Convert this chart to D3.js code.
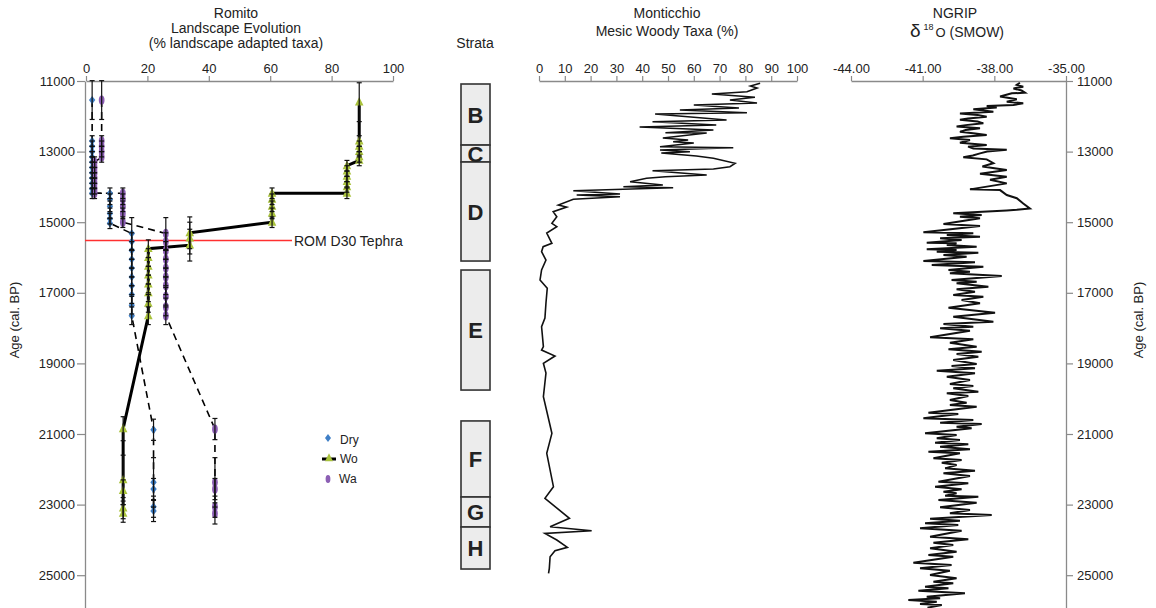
<html>
<script src="https://d3js.org/d3.v7.min.js"></script>
<body style="margin:0">
<style>
    text { font-family: Arial, "Liberation Sans", sans-serif; fill: #222; }
</style>
<svg width=1156 height=608></svg>
<script>

// ---- data ----
var ageTicks = [11000, 13000, 15000, 17000, 19000, 21000, 23000, 25000];
var romitoTicks = [0, 20, 40, 60, 80, 100];
var montTicks = [0, 10, 20, 30, 40, 50, 60, 70, 80, 90, 100];
var ngripTicks = [-44, -41, -38, -35];

// Romito samples: [percent, age, age error]
var dry = [
    [2, 11540, 550],
    [2, 12700, 150], [2, 12850, 150], [2, 13000, 150], [2, 13150, 150], [2, 13300, 150], [2, 13450, 150],
    [2, 13600, 150], [2, 13750, 150], [2, 13900, 150], [2, 14050, 150], [2, 14180, 150],
    [7.8, 14180, 150], [7.8, 14350, 150], [7.8, 14550, 150], [7.8, 14750, 150], [7.8, 14900, 150], [7.8, 15030, 150],
    [14.9, 15320, 450], [14.9, 15550, 250], [14.9, 15800, 250], [14.9, 16050, 250], [14.9, 16300, 250],
    [14.9, 16550, 250], [14.9, 16800, 250], [14.9, 17050, 250], [14.9, 17350, 250], [14.9, 17650, 250],
    [22, 20880, 300], [22, 22370, 700], [22, 22560, 300], [22, 23060, 300], [22, 23180, 300]
];
var wo = [
    [89, 11600, 550],
    [89, 12700, 150], [89, 12850, 150], [89, 13000, 150], [89, 13150, 150], [89, 13250, 150],
    [85, 13400, 150], [85, 13550, 150], [85, 13700, 150], [85, 13850, 150], [85, 14000, 150], [85, 14180, 150],
    [60.6, 14180, 150], [60.6, 14350, 150], [60.6, 14550, 150], [60.6, 14750, 150], [60.6, 15000, 150],
    [33.8, 15300, 450], [33.8, 15450, 450], [33.8, 15650, 450],
    [20.3, 15750, 250], [20.3, 16000, 250], [20.3, 16250, 250], [20.3, 16500, 250], [20.3, 16750, 250],
    [20.3, 17000, 250], [20.3, 17300, 250], [20.3, 17650, 250],
    [12.1, 20850, 340], [12.1, 22300, 700], [12.1, 22600, 300], [12.1, 23100, 300], [12.1, 23250, 250]
];
var wa = [
    [5.1, 11540, 550],
    [5.1, 12700, 150], [5.1, 12850, 150], [5.1, 13000, 150], [5.1, 13150, 150],
    [2.8, 13300, 150], [2.8, 13450, 150], [2.8, 13600, 150], [2.8, 13750, 150], [2.8, 13900, 150], [2.8, 14050, 150], [2.8, 14180, 150],
    [12, 14180, 150], [12, 14350, 150], [12, 14550, 150], [12, 14750, 150], [12, 15000, 150],
    [26, 15320, 450], [26, 15550, 250], [26, 15800, 250], [26, 16050, 250], [26, 16300, 250],
    [26, 16550, 250], [26, 16800, 250], [26, 17100, 250], [26, 17400, 250], [26, 17650, 250],
    [42, 20860, 300], [42, 22370, 700], [42, 22560, 300], [42, 23060, 300], [42, 23250, 300]
];

var tephraAge = 15520;

// strata: [name, top age, bottom age]
var strata = [
    ["B", 11085, 12815], ["C", 12815, 13295], ["D", 13295, 16100],
    ["E", 16355, 19755], ["F", 20630, 22785], ["G", 22785, 23635], ["H", 23635, 24825]
];

// Monticchio mesic woody taxa: [age, percent]
var monticchio = [
    [11065, 85.7], [11142, 82], [11198, 84.5], [11303, 80.6], [11368, 67], [11462, 83.7], [11538, 74],
    [11623, 84.5], [11680, 60], [11765, 77.5], [11822, 54.6], [11898, 80.6], [11935, 45], [12105, 72.7],
    [12153, 44], [12247, 68.7], [12303, 39], [12388, 67.6], [12465, 49], [12473, 65], [12615, 48],
    [12671, 57.8], [12720, 52], [12756, 60], [12861, 46.9], [12890, 75.3], [12955, 46.9], [13003, 58.5],
    [13040, 47.4], [13125, 61], [13190, 67.6], [13332, 76], [13428, 74], [13493, 67.6], [13541, 44],
    [13663, 65], [13711, 49], [13757, 41.7], [13853, 35.3], [13946, 48], [13994, 32.7], [14022, 52],
    [14108, 13.3], [14201, 31.4], [14230, 14.6], [14278, 31.4], [14351, 13.3], [14513, 7.5], [14570, 10.7],
    [14703, 5.5], [14845, 6.9], [15031, 5], [15128, 6.9], [15306, 3], [15598, 5], [15694, 1.6], [15836, 1],
    [16071, 2.7], [16354, 1], [16637, 0.4], [16873, 3.2], [17289, 2.7], [17714, 2.3], [17961, 1],
    [18527, 1.7], [18621, 1], [18791, 6.2], [18998, 1.7], [19272, 2.7], [19944, 1.7], [20981, 5],
    [21547, 3], [22493, 5.6], [22822, 2.3], [23389, 11.8], [23627, 4.3], [23740, 20.4], [23814, 2.3],
    [24003, 6.9], [24210, 11], [24307, 6.2], [24477, 4.3], [24805, 4], [24947, 3.7]
];

// NGRIP d18O: [age, value]
var ngrip = [
    [11050, -36.93], [11110, -37.06], [11160, -36.79], [11210, -37.20], [11270, -36.86], [11330, -36.72],
    [11350, -37.27], [11440, -37.76], [11520, -37.06], [11590, -37.48], [11630, -36.79], [11680, -37.20],
    [11710, -38.32], [11750, -37.90], [11800, -38.88], [11870, -38.04], [11920, -39.44], [11960, -38.70],
    [12010, -38.32], [12060, -39.10], [12100, -39.44], [12150, -38.70], [12200, -38.46], [12250, -39.20],
    [12290, -39.58], [12340, -38.60], [12390, -39.20], [12440, -39.44], [12490, -38.80], [12530, -38.32],
    [12580, -39.30], [12620, -39.86], [12670, -39.02], [12750, -39.44], [12810, -38.32], [12860, -39.10],
    [12910, -38.88], [12950, -37.48], [13000, -38.30], [13050, -38.60], [13110, -38.90], [13160, -39.30],
    [13220, -38.32], [13330, -38.04], [13420, -38.50], [13520, -37.48], [13630, -38.60], [13710, -37.48],
    [13800, -38.18], [13900, -37.48], [14070, -39.02], [14090, -37.76], [14230, -37.48], [14320, -37.06],
    [14470, -36.79], [14610, -36.51], [14650, -37.06], [14670, -37.48],
    [14749, -39.72], [14796, -38.53], [14843, -39.44], [14890, -38.60], [15051, -40.13], [15108, -38.60],
    [15287, -40.97], [15315, -38.88], [15363, -39.99], [15410, -38.60], [15457, -40.27], [15504, -39.37],
    [15580, -40.83], [15599, -39.58], [15646, -39.99], [15693, -38.74], [15769, -40.83], [15787, -39.58],
    [15835, -40.41], [15863, -38.67], [15929, -40.13], [15976, -39.16], [16099, -40.97], [16137, -38.81],
    [16212, -40.62], [16260, -38.46], [16354, -39.92], [16401, -39.02], [16448, -39.86], [16524, -37.69],
    [16637, -39.79], [16685, -38.74], [16732, -39.58], [16826, -38.25], [16902, -39.58], [16968, -38.81],
    [17062, -39.72], [17109, -38.46], [17204, -39.37], [17298, -38.60], [17421, -39.92], [17563, -37.97],
    [17676, -39.72], [17818, -38.04], [17884, -40.13], [17959, -38.88], [18007, -40.27], [18073, -39.02],
    [18261, -40.69], [18318, -38.88], [18413, -39.86], [18526, -38.74], [18602, -39.92], [18668, -38.53],
    [18734, -39.58], [18809, -38.67], [18904, -39.72], [19017, -38.74], [19074, -39.79], [19140, -38.81],
    [19206, -40.41], [19281, -38.81], [19376, -39.99], [19471, -39.02], [19584, -39.86], [19640, -38.88],
    [19706, -39.72], [19801, -38.67], [19848, -39.99], [19924, -39.09], [20037, -39.86], [20112, -39.16],
    [20179, -39.86], [20226, -38.74], [20396, -40.76], [20434, -39.51], [20556, -40.97], [20604, -38.88],
    [20679, -40.27], [20717, -38.53], [20793, -39.58], [20840, -38.95], [20981, -40.90], [21029, -39.58],
    [21123, -40.41], [21170, -39.44], [21246, -40.48], [21293, -39.09], [21359, -40.27], [21435, -39.02],
    [21501, -40.76], [21548, -39.44], [21690, -40.55], [21737, -39.37], [21812, -40.20], [21878, -39.58],
    [21973, -40.06], [22039, -38.81], [22114, -40.13], [22190, -39.02], [22351, -40.34], [22398, -39.09],
    [22492, -40.48], [22568, -39.37], [22634, -40.13], [22681, -39.58], [22747, -40.06], [22776, -38.67],
    [22870, -40.34], [22946, -38.74], [23078, -40.27], [23153, -39.02], [23248, -39.86], [23295, -38.11],
    [23399, -40.69], [23455, -39.44], [23531, -40.90], [23578, -39.51], [23673, -41.11], [23739, -39.37],
    [23909, -40.69], [23984, -39.09], [24079, -40.55], [24145, -39.72], [24239, -40.69], [24334, -39.58],
    [24428, -40.76], [24475, -39.72], [24645, -41.39], [24711, -39.79], [24806, -41.11], [24872, -39.86],
    [24995, -40.69], [25089, -39.58], [25183, -40.55], [25231, -39.72], [25325, -40.90], [25372, -39.92],
    [25438, -41.18], [25514, -39.23], [25608, -40.83], [25656, -40.27], [25703, -41.60], [25750, -40.41],
    [25816, -41.11], [25845, -40.20], [25920, -40.80]
];

// ---- scales ----
var svg = d3.select("svg");

var y = d3.scaleLinear().domain([11000, 26000]).range([81, 610.5]);
var xR = d3.scaleLinear().domain([0, 100]).range([86, 393]);
var xM = d3.scaleLinear().domain([0, 100]).range([539, 797]);
var xN = d3.scaleLinear().domain([-44, -35]).range([851, 1066]);

function styleAxis(g) {
    g.select(".domain").attr("stroke", "#8a8a8a").attr("stroke-width", 1.3);
    g.selectAll(".tick line").attr("stroke", "#8a8a8a").attr("stroke-width", 1.2);
    g.selectAll(".tick text").style("font-size", "13px").attr("fill", "#222")
        .style("font-family", "Arial, 'Liberation Sans', sans-serif");
}

// ---- axes ----
svg.append("g").attr("transform", "translate(0,81)")
    .call(d3.axisTop(xR).tickValues(romitoTicks).tickSize(5).tickSizeOuter(0).tickPadding(3))
    .call(styleAxis);

svg.append("g").attr("transform", "translate(85,0)")
    .call(d3.axisLeft(y).tickValues(ageTicks).tickFormat(d3.format("d")).tickSize(8).tickSizeOuter(0).tickPadding(2))
    .call(styleAxis);

svg.append("g").attr("transform", "translate(0,81)")
    .call(d3.axisTop(xM).tickValues(montTicks).tickSize(5).tickSizeOuter(0).tickPadding(3))
    .call(styleAxis);

var fmt2 = d3.format(".2f");
svg.append("g").attr("transform", "translate(0,81)")
    .call(d3.axisTop(xN).tickValues(ngripTicks)
        .tickFormat(function(d) { return fmt2(d).replace("\u2212", "-"); })
        .tickSize(5).tickSizeOuter(0).tickPadding(3))
    .call(styleAxis);

svg.append("g").attr("transform", "translate(1066,0)")
    .call(d3.axisRight(y).tickValues(ageTicks).tickFormat(d3.format("d")).tickSize(7).tickSizeOuter(0).tickPadding(4))
    .call(styleAxis);

// ---- titles ----
function title(x, yy, txt, size) {
    svg.append("text").attr("x", x).attr("y", yy).attr("text-anchor", "middle")
        .style("font-size", (size || 14) + "px").text(txt);
}
title(236, 18, "Romito");
title(236, 33, "Landscape Evolution");
title(236, 48, "(% landscape adapted taxa)");
title(475, 48, "Strata");
title(667, 18, "Monticchio");
title(667, 36, "Mesic Woody Taxa (%)");
title(955, 18, "NGRIP");

var d18 = svg.append("text").attr("x", 957).attr("y", 37).attr("text-anchor", "middle").style("font-size", "14px");
d18.append("tspan").style("font-size", "19px").text("δ");
d18.append("tspan").attr("dx", 3).attr("dy", -7).style("font-size", "9px").text("18");
d18.append("tspan").attr("dx", 2).attr("dy", 7).style("font-size", "13px").text("O");
d18.append("tspan").style("font-size", "14px").text(" (SMOW)");

svg.append("text").attr("transform", "translate(19,320) rotate(-90)").attr("text-anchor", "middle")
    .style("font-size", "13px").text("Age (cal. BP)");
svg.append("text").attr("transform", "translate(1143,320) rotate(-90)").attr("text-anchor", "middle")
    .style("font-size", "13px").text("Age (cal. BP)");

// ---- tephra ----
svg.append("line").attr("x1", 85).attr("x2", 292).attr("y1", y(tephraAge)).attr("y2", y(tephraAge))
    .attr("stroke", "#ff3030").attr("stroke-width", 1.5);
svg.append("text").attr("x", 294).attr("y", y(tephraAge) + 5).style("font-size", "14px").text("ROM D30 Tephra");

// ---- Romito series ----
var romLine = d3.line().x(function(d) { return xR(d[0]); }).y(function(d) { return y(d[1]); });

svg.append("path").datum(dry).attr("d", romLine).attr("fill", "none")
    .attr("stroke", "black").attr("stroke-width", 1.6).attr("stroke-dasharray", "7,5");
svg.append("path").datum(wa).attr("d", romLine).attr("fill", "none")
    .attr("stroke", "black").attr("stroke-width", 1.6).attr("stroke-dasharray", "7,5");
svg.append("path").datum(wo).attr("d", romLine).attr("fill", "none")
    .attr("stroke", "black").attr("stroke-width", 3);

var colDry = "#3f7fc6", colWo = "#a9c23c", colWa = "#8c5fb4";

function diamond(g, cx, cy, s) {
    g.append("path").attr("d", "M" + cx + "," + (cy - s * 1.3) + "L" + (cx + s) + "," + cy +
        "L" + cx + "," + (cy + s * 1.3) + "L" + (cx - s) + "," + cy + "Z").attr("fill", colDry);
}
function triangle(g, cx, cy, s) {
    g.append("path").attr("d", "M" + cx + "," + (cy - s * 1.2) + "L" + (cx + s) + "," + (cy + s * 0.8) +
        "L" + (cx - s) + "," + (cy + s * 0.8) + "Z").attr("fill", colWo);
}
function oval(g, cx, cy, s) {
    g.append("ellipse").attr("cx", cx).attr("cy", cy).attr("rx", s * 0.8).attr("ry", s * 1.3).attr("fill", colWa);
}

var marks = svg.append("g");
dry.forEach(function(d) { diamond(marks, xR(d[0]), y(d[1]), 3.2); });
wa.forEach(function(d) { oval(marks, xR(d[0]), y(d[1]), 3.6); });
wo.forEach(function(d) { triangle(marks, xR(d[0]), y(d[1]), 4.3); });

// error bars
var errs = svg.append("g").attr("stroke", "#111").attr("stroke-width", 1.2);
[dry, wo, wa].forEach(function(series) {
    series.forEach(function(d) {
        var x = xR(d[0]), y0 = y(d[1] - d[2]), y1 = y(d[1] + d[2]);
        errs.append("line").attr("x1", x).attr("x2", x).attr("y1", y0).attr("y2", y1);
        errs.append("line").attr("x1", x - 2.5).attr("x2", x + 2.5).attr("y1", y0).attr("y2", y0);
        errs.append("line").attr("x1", x - 2.5).attr("x2", x + 2.5).attr("y1", y1).attr("y2", y1);
    });
});

// legend
var lg = svg.append("g");
diamond(lg, 328, 438, 3);
lg.append("line").attr("x1", 322).attr("x2", 336).attr("y1", 459).attr("y2", 459).attr("stroke", "black").attr("stroke-width", 3);
triangle(lg, 329, 458, 4);
oval(lg, 328, 479, 3);
lg.append("text").attr("x", 340).attr("y", 444).style("font-size", "12px").text("Dry");
lg.append("text").attr("x", 340).attr("y", 463).style("font-size", "12px").text("Wo");
lg.append("text").attr("x", 339).attr("y", 483).style("font-size", "12px").text("Wa");

// ---- strata ----
var st = svg.append("g");
strata.forEach(function(s) {
    st.append("rect").attr("x", 461).attr("width", 29).attr("y", y(s[1])).attr("height", y(s[2]) - y(s[1]))
        .attr("fill", "#ececec").attr("stroke", "#333").attr("stroke-width", 1.6);
});
strata.forEach(function(s) {
    st.append("text").attr("x", 475.5).attr("y", (y(s[1]) + y(s[2])) / 2 + 8).attr("text-anchor", "middle")
        .style("font-size", "22px").style("font-weight", "bold").attr("fill", "#1a1a1a").text(s[0]);
});

// ---- Monticchio ----
svg.append("path").datum(monticchio)
    .attr("d", d3.line().x(function(d) { return xM(d[1]); }).y(function(d) { return y(d[0]); }))
    .attr("fill", "none").attr("stroke", "#111").attr("stroke-width", 1.6);

// ---- NGRIP ----
svg.append("path").datum(ngrip)
    .attr("d", d3.line().x(function(d) { return xN(d[1]); }).y(function(d) { return y(d[0]); }))
    .attr("fill", "none").attr("stroke", "#111").attr("stroke-width", 2);

</script>
</body>
</html>
